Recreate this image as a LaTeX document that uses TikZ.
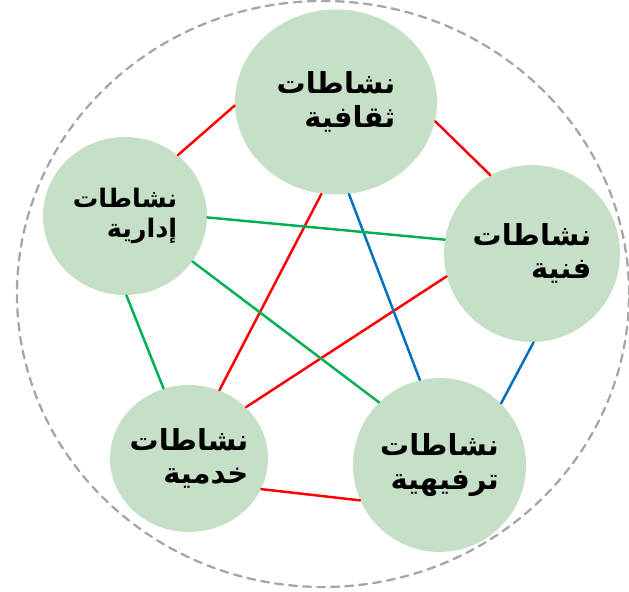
\documentclass[tikz,border=0pt]{standalone}
\usepackage{fontspec}
\usetikzlibrary{shapes.geometric}
\newfontfamily\arabicfont[Script=Arabic]{DejaVu Sans}
\TeXXeTstate=1
\definecolor{actfill}{RGB}{198,224,199}
\definecolor{linkred}{RGB}{255,0,0}
\definecolor{linkblue}{RGB}{0,112,192}
\definecolor{linkgreen}{RGB}{0,176,80}
\definecolor{rimgray}{RGB}{166,166,166}

\begin{document}
\begin{tikzpicture}[x=1cm,y=1cm,line cap=round,line join=round,
  act/.style={ellipse,fill=actfill,inner xsep=-0.6cm,inner ysep=-0.4cm,align=right,font=\arabicfont\bfseries\fontsize{16.5}{19}\selectfont},
  link/.style={line width=1.4pt}]
\useasboundingbox (0,0) rectangle (12.58,11.84);
\draw[rimgray,line width=1.3pt,dash pattern=on 4.5pt off 3.5pt] (6.46,5.96) ellipse [x radius=6.12,y radius=5.86];
\node[act,minimum width=4.04cm,minimum height=3.70cm] (cult) at (6.72,9.80) {\beginR نشاطات\endR\\\beginR ثقافية\endR};
\node[act,minimum width=3.28cm,minimum height=3.16cm,font=\arabicfont\bfseries\fontsize{14.5}{17.5}\selectfont] (adm) at (2.50,7.52) {\beginR نشاطات\endR\\\beginR إدارية\endR};
\node[act,minimum width=3.52cm,minimum height=3.54cm] (art) at (10.64,6.77) {\beginR نشاطات\endR\\\beginR فنية\endR};
\node[act,minimum width=3.16cm,minimum height=2.94cm] (serv) at (3.78,2.67) {\beginR نشاطات\endR\\\beginR خدمية\endR};
\node[act,minimum width=3.46cm,minimum height=3.48cm] (ent) at (8.79,2.54) {\beginR نشاطات\endR\\\beginR ترفيهية\endR};
\draw[link,linkred] (cult.182) -- (adm.49);
\draw[link,linkred] (cult.349) -- (art.118);
\draw[link,linkred] (cult.261) -- (serv.66);
\draw[link,linkred] (art.195) -- (serv.42);
\draw[link,linkred] (serv.337) -- (ent.204);
\draw[link,linkblue] (cult.278) -- (ent.103);
\draw[link,linkblue] (art.271) -- (ent.45);
\draw[link,linkgreen] (adm.359) -- (art.171);
\draw[link,linkgreen] (adm.326) -- (ent.134);
\draw[link,linkgreen] (adm.271) -- (serv.110);
\end{tikzpicture}
\end{document}
